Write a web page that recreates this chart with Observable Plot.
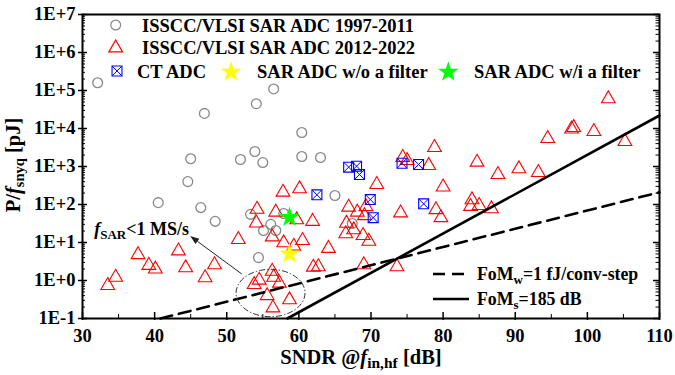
<!DOCTYPE html>
<html><head><meta charset="utf-8">
<script src="https://cdn.jsdelivr.net/npm/d3@7"></script>
<script src="https://cdn.jsdelivr.net/npm/@observablehq/plot@0.6"></script>
<style>body{margin:0;background:#fff} svg{display:block}</style>
</head><body><div id="chart"></div>
<script>
// ---- data (SNDR in dB, P/fsnyq in pJ) ----
const sarOldX = [32.1,46.9,45.0,44.6,40.5,46.4,48.4,51.9,53.9,55.0,54.1,56.5,60.4,60.4,63.0,53.3,56.1,55.1,56.8,54.4,65.0,57.9,67.4];
const sarOldY = [1.6e5,2.5e4,1600,400,112,83,36,1530,2480,1270,4.5e4,1.1e5,7850,1830,1730,55,30,20.7,20.7,4.0,173,58,31.6];

const sarNewX = [33.5,34.6,37.7,39.2,40.1,43.3,44.3,47.0,48.3,51.6,54.2,54.1,56.8,56.3,57.8,60.1,57.9,59.3,60.5,61.9,59.7,62.0,62.7,64.1,
  53.8,54.5,56.3,56.5,57.3,55.6,58.7,56.4,66.9,68.1,69.3,69.1,66.6,67.6,66.5,68.9,69.7,74.1,79.0,79.7,84.0,83.8,85.0,86.7,69.0,73.6,
  70.8,80.0,78.8,74.4,75.0,78.0,84.7,87.6,90.5,93.2,94.5,98.1,97.8,100.9,102.9,105.2];
const sarNewY = [0.74,1.22,4.8,2.5,2.0,6.0,2.16,1.18,2.6,12,75,32.6,63,14,211,259,9.8,8,11.3,36,39.5,2.24,2.3,7,
  0.78,1.02,1.75,1.22,0.85,0.40,0.31,0.19,85,63,88,51,32,21.6,17,15.3,10.8,60,73,45,133,89,94,77,2.6,2.3,
  336,289,3160,1730,1440,1060,1300,615,870,695,5460,10600,9700,8340,60500,4550];

const ctX = [62.5,69.9,70.3,77.3,66.9,68.0,68.4,74.3,76.6];
const ctY = [180,135,45,104,960,1020,615,1220,1130];

const noFilterX = [58.7], noFilterY = [5.05];
const withFilterX = [58.7], withFilterY = [46];

// reference lines (end points)
const fomWX = [40.8,110], fomWY = [0.1,210];
const fomSX = [58.4,110], fomSY = [0.1,22000];

// tick labels
const xTicks = [30,40,50,60,70,80,90,100,110];
const xMinor = [35,45,55,65,75,85,95,105];
const yTicks = [1e-1,1e0,1e1,1e2,1e3,1e4,1e5,1e6,1e7];
const yTickLabels = ["1E-1","1E+0","1E+1","1E+2","1E+3","1E+4","1E+5","1E+6","1E+7"];
const yMinor = [];
for (let e=-1;e<7;e++) for (let k=2;k<10;k++) yMinor.push(k*Math.pow(10,e));

// annotation anchors (data coordinates)
const noteText = {x:31.7, y:15.3};
const noteArrow = {x1:52.15, y1:1.44, x2:45.0, y2:14.4};
const noteEllipse = {x:56.14, y:0.455};

const zip = (xs, ys) => xs.map((x,i)=>({x, y: ys[i]}));
const sarOld = zip(sarOldX, sarOldY), sarNew = zip(sarNewX, sarNewY), ct = zip(ctX, ctY);
const noF = zip(noFilterX, noFilterY), wiF = zip(withFilterX, withFilterY);
const fomW = zip(fomWX, fomWY), fomS = zip(fomSX, fomSY);

const W=675, H=375, mL=82, mR=16, mT=14, mB=57;
const fw = W-mL-mR, fh = H-mT-mB;
const FONT = "'Liberation Serif','Times New Roman',serif";

const plot = Plot.plot({
  width: W, height: H, marginLeft: mL, marginRight: mR, marginTop: mT, marginBottom: mB,
  style: {fontFamily: FONT, fontWeight: "bold", fontSize: "18px", background: "#fff", color: "#000"},
  x: {domain: [30,110]},
  y: {type: "log", domain: [0.1, 1e7]},
  marks: [
    Plot.axisY({ticks: yTicks, tickFormat: d => yTickLabels[yTicks.indexOf(d)], tickSize: 4, tickPadding: 3, strokeWidth: 1.5, label: null, fontSize: 18.5}),
    Plot.axisX({ticks: xTicks, tickFormat: d => String(d), tickSize: 2, tickPadding: 8, strokeWidth: 1.5, label: null, fontSize: 18.5}),
    Plot.tickY(yTicks, {y: d=>d, insetRight: fw-5, stroke: "#000", strokeWidth: 1.5}),
    Plot.tickY(yMinor, {y: d=>d, insetRight: fw-3, stroke: "#000", strokeWidth: 1}),
    Plot.tickY(yTicks, {y: d=>d, insetLeft: fw-6, stroke: "#000", strokeWidth: 1.5}),
    Plot.tickY(yMinor, {y: d=>d, insetLeft: fw-3.5, stroke: "#000", strokeWidth: 1}),
    Plot.tickX(xTicks, {x: d=>d, insetTop: fh-6, stroke: "#000", strokeWidth: 1.5}),
    Plot.tickX(xMinor, {x: d=>d, insetTop: fh-4, stroke: "#000", strokeWidth: 1}),
    Plot.dot(sarOld, {x: "x", y: "y", r: 4.9, stroke: "#888", strokeWidth: 1.3, fill: "none"}),
    Plot.dot(sarNew, {x: "x", y: "y", symbol: "triangle", r: 5.1, stroke: "#ff0000", strokeWidth: 1.1, fill: "none"}),
    Plot.dot(ct, {x: "x", y: "y", symbol: "square", r: 5.6, stroke: "#0000ff", strokeWidth: 1.1, fill: "none"}),
    Plot.dot(ct, {x: "x", y: "y", symbol: "times", r: 4.6, stroke: "#0000ff", strokeWidth: 1}),
    Plot.line(fomW, {x: "x", y: "y", stroke: "#000", strokeWidth: 2.6, strokeDasharray: "12,7"}),
    Plot.line(fomS, {x: "x", y: "y", stroke: "#000", strokeWidth: 2.6}),
    Plot.dot(noF, {x: "x", y: "y", symbol: "star", r: 6.5, fill: "#ffff00", stroke: "none"}),
    Plot.dot(wiF, {x: "x", y: "y", symbol: "star", r: 6.5, fill: "#00ff00", stroke: "none"}),
    Plot.frame({stroke: "#000", strokeWidth: 2})
  ]
});
document.getElementById("chart").appendChild(plot);

// ---- decorations: titles, legend, annotation ----
const svg = d3.select(plot);
const sx = plot.scale("x"), sy = plot.scale("y");
const g = svg.append("g").attr("font-family", FONT).attr("font-weight", "bold").attr("fill", "#000").attr("text-anchor", "start");

// y title
const yt = g.append("text").attr("transform", "translate(20,165) rotate(-90)").attr("text-anchor", "middle").attr("font-size", 20.5);
yt.append("tspan").text("P/");
yt.append("tspan").attr("font-style", "italic").text("f");
yt.append("tspan").attr("font-size", 14.5).attr("dy", 4).text("snyq");
yt.append("tspan").attr("dy", -4).text(" [pJ]");

// x title
const xt = g.append("text").attr("x", 361).attr("y", 364).attr("text-anchor", "middle").attr("font-size", 20.5);
xt.append("tspan").text("SNDR @");
xt.append("tspan").attr("font-style", "italic").text("f");
xt.append("tspan").attr("font-size", 15.5).attr("dy", 4).text("in,hf");
xt.append("tspan").attr("dy", -4).text(" [dB]");

// legend (top)
const sym = (type, r) => d3.symbol().type(type).size(Math.PI*r*r)();
const leg = [
  {type: d3.symbolCircle, r: 4.9, x: 115.7, y: 25, stroke: "#888", fill: "none", tx: 142, ty: 31.5, label: "ISSCC/VLSI SAR ADC 1997-2011"},
  {type: d3.symbolTriangle, r: 5.1, x: 115.7, y: 48, stroke: "#ff0000", fill: "none", tx: 142, ty: 54.3, label: "ISSCC/VLSI SAR ADC 2012-2022"},
  {type: d3.symbolStar, r: 6.5, x: 231, y: 72, stroke: "none", fill: "#ffff00", tx: 257, ty: 77.5, label: "SAR ADC w/o a filter"},
  {type: d3.symbolStar, r: 6.5, x: 448.3, y: 72, stroke: "none", fill: "#00ff00", tx: 474, ty: 77.5, label: "SAR ADC w/i a filter"}
];
for (const l of leg) {
  g.append("path").attr("d", sym(l.type, l.r)).attr("transform", `translate(${l.x},${l.y})`)
    .attr("fill", l.fill).attr("stroke", l.stroke).attr("stroke-width", 1.2);
  g.append("text").attr("x", l.tx).attr("y", l.ty).attr("font-size", 18.5).text(l.label);
}
g.append("path").attr("d", sym(d3.symbolSquare, 5.6)).attr("transform", "translate(117,71)").attr("fill", "none").attr("stroke", "#0000ff").attr("stroke-width", 1.1);
g.append("path").attr("d", sym(d3.symbolTimes, 4.6)).attr("transform", "translate(117,71)").attr("fill", "none").attr("stroke", "#0000ff").attr("stroke-width", 1);
g.append("text").attr("x", 137).attr("y", 77.5).attr("font-size", 18.5).text("CT ADC");

// legend (lines, bottom right)
g.append("line").attr("x1", 433).attr("x2", 469).attr("y1", 274).attr("y2", 274).attr("stroke", "#000").attr("stroke-width", 2.6).attr("stroke-dasharray", "12,7");
g.append("line").attr("x1", 433).attr("x2", 469).attr("y1", 299).attr("y2", 299).attr("stroke", "#000").attr("stroke-width", 2.6);
const l1 = g.append("text").attr("x", 477).attr("y", 280).attr("font-size", 17.8);
l1.append("tspan").text("FoM");
l1.append("tspan").attr("font-size", 13).attr("dy", 4).text("w");
l1.append("tspan").attr("dy", -4).text("=1 fJ/conv-step");
const l2 = g.append("text").attr("x", 477).attr("y", 305).attr("font-size", 17.8);
l2.append("tspan").text("FoM");
l2.append("tspan").attr("font-size", 13).attr("dy", 4).text("s");
l2.append("tspan").attr("dy", -4).text("=185 dB");

// annotation
const nt = g.append("text").attr("x", sx.apply(noteText.x)).attr("y", sy.apply(noteText.y)).attr("font-size", 18);
nt.append("tspan").attr("font-style", "italic").text("f");
nt.append("tspan").attr("font-size", 13).attr("dy", 4).text("SAR");
nt.append("tspan").attr("dy", -4).text("<1 MS/s");

const ax1 = sx.apply(noteArrow.x1), ay1 = sy.apply(noteArrow.y1), ax2 = sx.apply(noteArrow.x2), ay2 = sy.apply(noteArrow.y2);
const ang = Math.atan2(ay2-ay1, ax2-ax1), hl = 9, hw = 3.2;
const bx = ax2 - hl*Math.cos(ang), by = ay2 - hl*Math.sin(ang);
g.append("line").attr("x1", ax1).attr("y1", ay1).attr("x2", bx).attr("y2", by).attr("stroke", "#222").attr("stroke-width", 1);
g.append("path").attr("d", `M${ax2},${ay2}L${bx - hw*Math.sin(ang)},${by + hw*Math.cos(ang)}L${bx + hw*Math.sin(ang)},${by - hw*Math.cos(ang)}Z`).attr("fill", "#222");

g.append("ellipse").attr("cx", sx.apply(noteEllipse.x)).attr("cy", sy.apply(noteEllipse.y)).attr("rx", 34.5).attr("ry", 23.7)
  .attr("fill", "none").attr("stroke", "#333").attr("stroke-width", 1).attr("stroke-dasharray", "6,2,1.5,2");
</script>
</body></html>
